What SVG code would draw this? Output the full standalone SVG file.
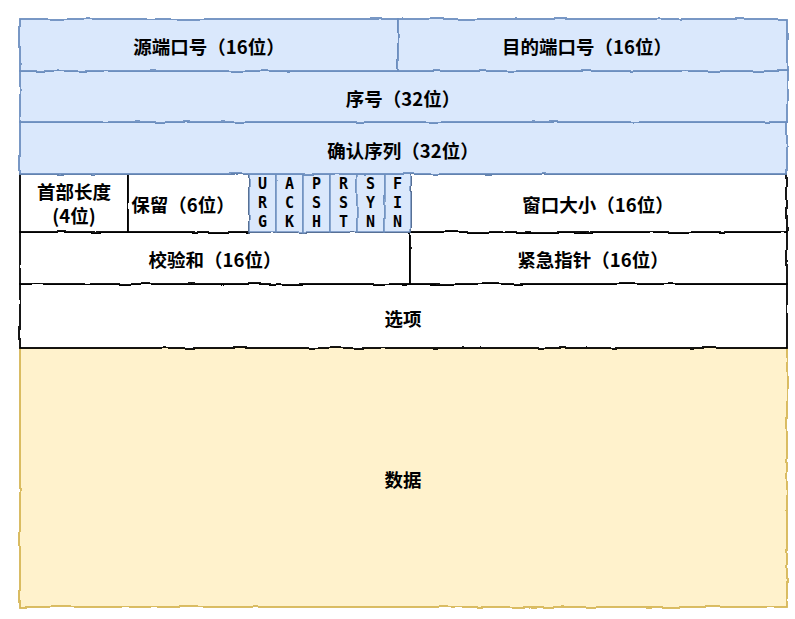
<svg xmlns="http://www.w3.org/2000/svg" width="795" height="619" viewBox="0 0 795 619">
<defs>
<filter id="rough" x="-5%" y="-5%" width="110%" height="110%">
<feTurbulence type="fractalNoise" baseFrequency="0.04" numOctaves="2" seed="3" result="n"/>
<feDisplacementMap in="SourceGraphic" in2="n" scale="3" xChannelSelector="R" yChannelSelector="G"/>
</filter>
</defs>
<style>
.blue{fill:#dae8fc;stroke:#6c8ebf;stroke-width:1.8}
.flag{fill:#dae8fc;stroke:#6c8ebf;stroke-width:1.5}
.white{fill:#ffffff;stroke:#000000;stroke-width:1.8}
.yellow{fill:#fff2cc;stroke:#d6b656;stroke-width:1.8}
.sh{filter:url(#rough)}
text{font-family:"Noto Sans CJK SC","Noto Sans",sans-serif;font-weight:bold;font-size:18.5px;fill:#000;text-anchor:middle;dominant-baseline:central}
.fl{font-family:"DejaVu Sans Mono",monospace;font-weight:bold;font-size:15px}
</style>
<rect width="795" height="619" fill="#ffffff"/>
<g id="data"><rect class="yellow sh" x="20" y="348" width="767" height="259"/><text x="403" y="479">数据</text></g>
<g id="options"><rect class="white sh" x="20" y="284" width="767" height="64"/><text x="403" y="318">选项</text></g>
<g id="checksum"><rect class="white sh" x="20" y="232" width="390" height="52"/><text x="215" y="259">校验和（16位）</text></g>
<g id="urgent"><rect class="white sh" x="410" y="232" width="377" height="52"/><text x="593" y="259">紧急指针（16位）</text></g>
<g id="hlen"><rect class="white sh" x="20" y="174" width="108" height="58"/><text x="74" y="191">首部长度</text><text x="74" y="215">(4位)</text></g>
<g id="reserved"><rect class="white sh" x="128" y="174" width="121" height="58"/><text x="183" y="204">保留（6位）</text></g>
<g id="window"><rect class="white sh" x="411" y="174" width="376" height="58"/><text x="598" y="204">窗口大小（16位）</text></g>
<g id="flag-urg"><rect class="flag sh" x="249" y="174" width="27" height="58"/><text class="fl" x="262.5" y="184">U</text><text class="fl" x="262.5" y="203">R</text><text class="fl" x="262.5" y="222">G</text></g>
<g id="flag-ack"><rect class="flag sh" x="276" y="174" width="27" height="58"/><text class="fl" x="289.5" y="184">A</text><text class="fl" x="289.5" y="203">C</text><text class="fl" x="289.5" y="222">K</text></g>
<g id="flag-psh"><rect class="flag sh" x="303" y="174" width="27" height="58"/><text class="fl" x="316.5" y="184">P</text><text class="fl" x="316.5" y="203">S</text><text class="fl" x="316.5" y="222">H</text></g>
<g id="flag-rst"><rect class="flag sh" x="330" y="174" width="27" height="58"/><text class="fl" x="343.5" y="184">R</text><text class="fl" x="343.5" y="203">S</text><text class="fl" x="343.5" y="222">T</text></g>
<g id="flag-syn"><rect class="flag sh" x="357" y="174" width="27" height="58"/><text class="fl" x="370.5" y="184">S</text><text class="fl" x="370.5" y="203">Y</text><text class="fl" x="370.5" y="222">N</text></g>
<g id="flag-fin"><rect class="flag sh" x="384" y="174" width="27" height="58"/><text class="fl" x="397.5" y="184">F</text><text class="fl" x="397.5" y="203">I</text><text class="fl" x="397.5" y="222">N</text></g>
<g id="ack"><rect class="blue sh" x="20" y="122" width="767" height="52"/><text x="403" y="150">确认序列（32位）</text></g>
<g id="seq"><rect class="blue sh" x="20" y="71" width="767" height="51"/><text x="403" y="98">序号（32位）</text></g>
<g id="srcport"><rect class="blue sh" x="20" y="19" width="378" height="52"/><text x="209" y="46">源端口号（16位）</text></g>
<g id="dstport"><rect class="blue sh" x="398" y="19" width="389" height="52"/><text x="587" y="46">目的端口号（16位）</text></g>
</svg>
